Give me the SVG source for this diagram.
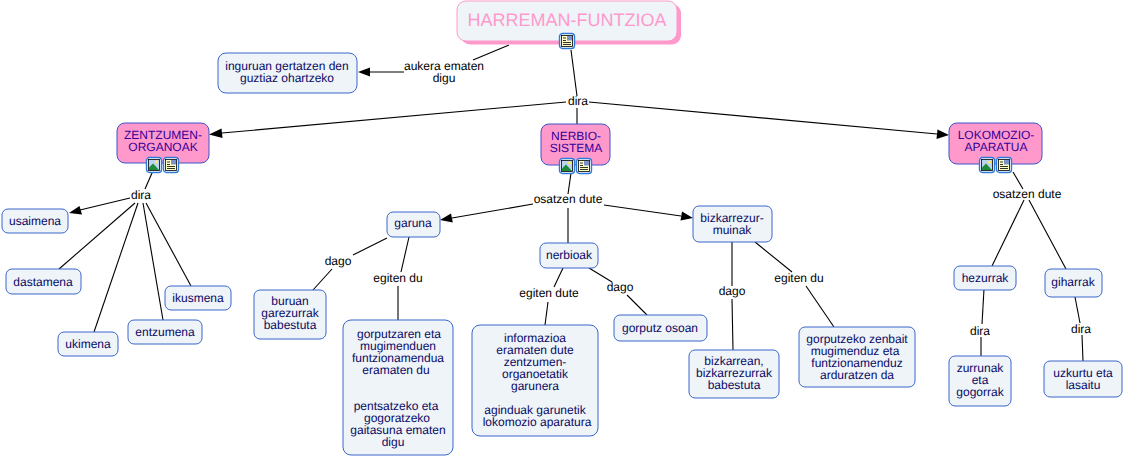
<svg xmlns="http://www.w3.org/2000/svg" width="1124" height="457" viewBox="0 0 1124 457">
<style>
text{font-family:"Liberation Sans",Arial,sans-serif;font-size:12px;text-anchor:middle;text-rendering:geometricPrecision}
.n rect{fill:#eef4f8;stroke:#3a66cc;stroke-width:1}
.n text{fill:#0a0a66}
.p rect{fill:#ff99cc;stroke:#3a55cc;stroke-width:1}
.p text{fill:#330099}
.l{fill:#000}
#connectors line{stroke:#000;stroke-width:1.1}
#connectors path{fill:#000}
.fr{fill:#fff;stroke:#2f7ad8;stroke-width:1.4}
</style>
<defs>
<g id="doc">
<rect class="fr" x="0.5" y="0.5" width="15" height="15" rx="3"/>
<rect x="2.500" y="2.500" width="11" height="11" fill="#ffffc8" stroke="#000" stroke-width="0.8"/>
<rect x="8" y="3" width="5" height="4.500" fill="#7a93c8"/>
<path d="M4 5h3M4 7.500h3M4 9.500h8M4 11.500h8" stroke="#000" stroke-width="0.8"/>
</g>
<g id="img">
<rect class="fr" x="0.5" y="0.5" width="15" height="15" rx="3"/>
<rect x="2.500" y="2.500" width="11" height="11" fill="#bcd4f0" stroke="#000" stroke-width="0.8"/>
<circle cx="10.500" cy="5" r="1.600" fill="#ffe86a"/>
<path d="M3 13V10.500L7 6.500L13 13Z" fill="#1e8a3c"/>
</g>
</defs>
<g id="connectors">
<line x1="509" y1="45" x2="473" y2="60"/>
<line x1="404" y1="72" x2="370" y2="72"/><path d="M358 72L370 67.500V76.500Z"/>
<line x1="571" y1="50" x2="577" y2="96"/>
<line x1="566" y1="102" x2="222" y2="133"/><path d="M209 134.500L221.500 128.500L222.500 138Z"/>
<line x1="589" y1="102" x2="937" y2="134"/><path d="M949 135L936.500 139L937.500 129.500Z"/>
<line x1="577" y1="108" x2="577" y2="124"/>
<line x1="571" y1="173" x2="568" y2="194"/>
<line x1="533" y1="204" x2="452" y2="218"/><path d="M440 220L451 213.500L452.800 222.500Z"/>
<line x1="604" y1="205" x2="681" y2="216"/><path d="M693 218L680.500 220.500L682 211.500Z"/>
<line x1="568" y1="208" x2="568" y2="243"/>
<line x1="152" y1="173" x2="145" y2="189"/>
<line x1="130" y1="198" x2="80" y2="210"/><path d="M69 213L79.500 206L82 214.500Z"/>
<line x1="135" y1="203" x2="59" y2="269"/>
<line x1="138" y1="203" x2="94" y2="332"/>
<line x1="143" y1="203" x2="163" y2="320"/>
<line x1="146" y1="203" x2="191" y2="286"/>
<line x1="1013" y1="172" x2="1023" y2="189"/>
<line x1="1024" y1="200" x2="992" y2="266"/>
<line x1="1029" y1="200" x2="1066" y2="269"/>
<line x1="387" y1="238" x2="353" y2="255"/>
<line x1="332" y1="269" x2="313" y2="290"/>
<line x1="409" y1="237" x2="401" y2="272"/>
<line x1="398" y1="286" x2="398" y2="320"/>
<line x1="563" y1="268" x2="554" y2="287"/>
<line x1="548" y1="302" x2="545" y2="325"/>
<line x1="589" y1="268" x2="612" y2="282"/>
<line x1="627" y1="295" x2="647" y2="315"/>
<line x1="732" y1="242" x2="732" y2="286"/>
<line x1="732" y1="299" x2="733" y2="350"/>
<line x1="755" y1="242" x2="792" y2="272"/>
<line x1="806" y1="286" x2="834" y2="327"/>
<line x1="984" y1="289" x2="982" y2="324"/>
<line x1="981" y1="337" x2="981" y2="356"/>
<line x1="1075" y1="297" x2="1080" y2="323"/>
<line x1="1082" y1="335" x2="1083" y2="361"/>
</g>
<g class="l">
<text x="444" y="70">aukera ematen</text><text x="444" y="82">digu</text>
<text x="578" y="105">dira</text>
<text x="141" y="199">dira</text>
<text x="568" y="203">osatzen dute</text>
<text x="1027" y="198">osatzen dute</text>
<text x="338" y="265">dago</text>
<text x="398" y="282">egiten du</text>
<text x="549" y="297">egiten dute</text>
<text x="620" y="291">dago</text>
<text x="732" y="295">dago</text>
<text x="799" y="282">egiten du</text>
<text x="980" y="335">dira</text>
<text x="1081" y="333">dira</text>
</g>
<g id="root">
<rect x="461" y="4" width="220" height="40.500" rx="9" fill="#ff99cc"/>
<rect x="457" y="1" width="220" height="40" rx="9" fill="#eef4f8" stroke="#ff99cc"/>
<text x="567" y="26" style="font-size:18px" fill="#ff99cc">HARREMAN-FUNTZIOA</text>
<use href="#doc" x="559" y="33"/>
</g>
<g id="inguruan" class="n"><rect x="218" y="53" width="139" height="40" rx="8"/><text x="287" y="70">inguruan gertatzen den</text><text x="287" y="82">guztiaz ohartzeko</text></g>
<g id="zentzumen" class="p"><rect x="117" y="123" width="92" height="40" rx="8"/><text x="163" y="139">ZENTZUMEN-</text><text x="163" y="151">ORGANOAK</text><use href="#img" x="146" y="157"/><use href="#doc" x="163" y="157"/></g>
<g id="nerbio" class="p"><rect x="541" y="124" width="69" height="41" rx="8"/><text x="576" y="140">NERBIO-</text><text x="576" y="152">SISTEMA</text><use href="#img" x="559" y="158"/><use href="#doc" x="576" y="158"/></g>
<g id="lokomozio" class="p"><rect x="949" y="123" width="93" height="41" rx="8"/><text x="996" y="139">LOKOMOZIO-</text><text x="996" y="151">APARATUA</text><use href="#img" x="979" y="157"/><use href="#doc" x="996" y="157"/></g>
<g id="usaimena" class="n"><rect x="2" y="209" width="66" height="24" rx="6"/><text x="35" y="225">usaimena</text></g>
<g id="dastamena" class="n"><rect x="6" y="269" width="75" height="25" rx="6"/><text x="43" y="286">dastamena</text></g>
<g id="ukimena" class="n"><rect x="58" y="332" width="60" height="24" rx="6"/><text x="88" y="348">ukimena</text></g>
<g id="entzumena" class="n"><rect x="128" y="320" width="74" height="24" rx="6"/><text x="165" y="336">entzumena</text></g>
<g id="ikusmena" class="n"><rect x="165" y="286" width="66" height="24" rx="6"/><text x="198" y="302">ikusmena</text></g>
<g id="garuna" class="n"><rect x="387" y="212" width="53" height="25" rx="6"/><text x="413" y="227">garuna</text></g>
<g id="nerbioak" class="n"><rect x="540" y="243" width="58" height="25" rx="6"/><text x="569" y="259">nerbioak</text></g>
<g id="bizkarrezur" class="n"><rect x="693" y="206" width="79" height="36" rx="6"/><text x="732" y="222">bizkarrezur-</text><text x="732" y="234">muinak</text></g>
<g id="buruan" class="n"><rect x="254" y="290" width="72" height="49" rx="6"/><text x="290" y="305">buruan</text><text x="290" y="317">garezurrak</text><text x="290" y="329">babestuta</text></g>
<g id="gorputzaren" class="n"><rect x="343" y="320" width="110" height="135" rx="8"/><text x="399" y="338">gorputzaren eta</text><text x="398" y="350">mugimenduen</text><text x="398" y="362">funtzionamendua</text><text x="396" y="374">eramaten du</text><text x="396" y="410">pentsatzeko eta</text><text x="397" y="422">gogoratzeko</text><text x="398" y="434">gaitasuna ematen</text><text x="393" y="446">digu</text></g>
<g id="informazioa" class="n"><rect x="472" y="325" width="126" height="111" rx="8"/><text x="535" y="342">informazioa</text><text x="535" y="354">eramaten dute</text><text x="535" y="366">zentzumen-</text><text x="535" y="378">organoetatik</text><text x="535" y="390">garunera</text><text x="535" y="414">aginduak garunetik</text><text x="537" y="426">lokomozio aparatura</text></g>
<g id="osoan" class="n"><rect x="614" y="315" width="93" height="26" rx="6"/><text x="660" y="332">gorputz osoan</text></g>
<g id="bizkarrean" class="n"><rect x="689" y="350" width="90" height="48" rx="6"/><text x="734" y="365">bizkarrean,</text><text x="734" y="377">bizkarrezurrak</text><text x="734" y="389">babestuta</text></g>
<g id="gorputzeko" class="n"><rect x="799" y="327" width="116" height="60" rx="6"/><text x="857" y="343">gorputzeko zenbait</text><text x="855" y="355">mugimenduz eta</text><text x="857" y="367">funtzionamenduz</text><text x="857" y="379">arduratzen da</text></g>
<g id="hezurrak" class="n"><rect x="954" y="266" width="62" height="24" rx="6"/><text x="985" y="282">hezurrak</text></g>
<g id="giharrak" class="n"><rect x="1045" y="269" width="57" height="28" rx="6"/><text x="1073" y="286">giharrak</text></g>
<g id="zurrunak" class="n"><rect x="949" y="356" width="62" height="50" rx="6"/><text x="980" y="372">zurrunak</text><text x="980" y="384">eta</text><text x="980" y="396">gogorrak</text></g>
<g id="uzkurtu" class="n"><rect x="1044" y="361" width="78" height="36" rx="6"/><text x="1083" y="377">uzkurtu eta</text><text x="1083" y="389">lasaitu</text></g>
</svg>
